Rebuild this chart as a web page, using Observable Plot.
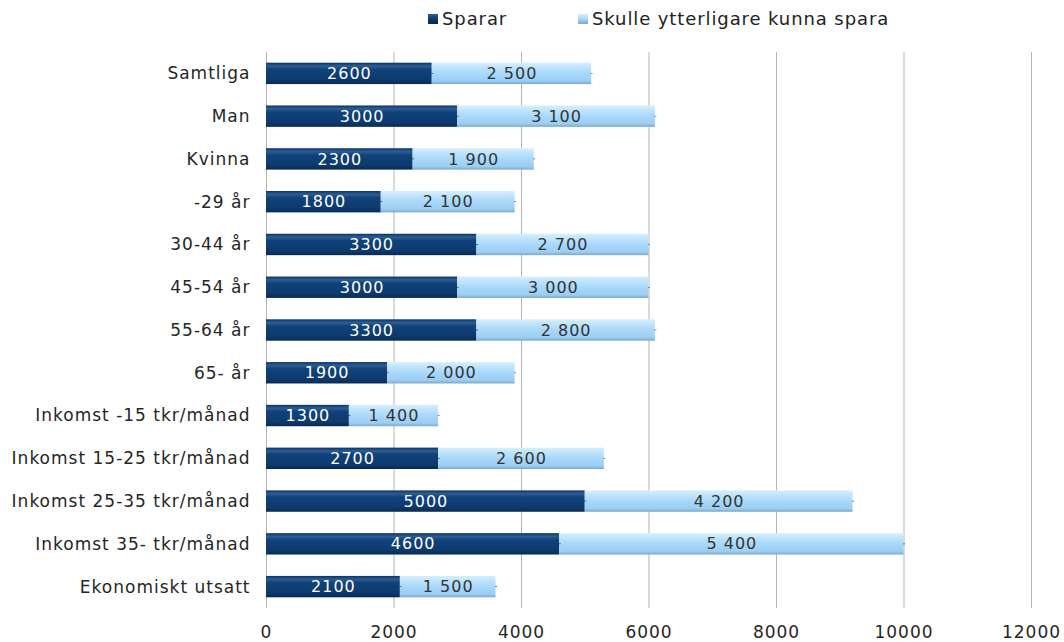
<!DOCTYPE html>
<html><head><meta charset="utf-8">
<script src="https://cdn.jsdelivr.net/npm/d3@7"></script>
<script src="https://cdn.jsdelivr.net/npm/@observablehq/plot@0.6"></script>
<style>
body{margin:0;background:#fff;font-family:"DejaVu Sans",Verdana,sans-serif;}
#wrap{position:relative;width:1064px;}
#legend{position:relative;height:40px;font-size:18px;letter-spacing:0.9px;color:#222;}
.lg{position:absolute;top:8px;display:flex;align-items:center;}
.sw{width:10px;height:10px;margin-right:4px;}
svg text{letter-spacing:1px;}
</style></head>
<body><div id="wrap"><div id="legend"></div><div id="chart"></div></div>
<script>
const categories = ["Samtliga","Man","Kvinna","-29 år","30-44 år","45-54 år","55-64 år","65- år","Inkomst -15 tkr/månad","Inkomst 15-25 tkr/månad","Inkomst 25-35 tkr/månad","Inkomst 35- tkr/månad","Ekonomiskt utsatt"];
const sparar = [2600,3000,2300,1800,3300,3000,3300,1900,1300,2700,5000,4600,2100];
const skulle = [2500,3100,1900,2100,2700,3000,2800,2000,1400,2600,4200,5400,1500];
const seriesNames = ["Sparar","Skulle ytterligare kunna spara"];
const xTicks = [0,2000,4000,6000,8000,10000,12000];

const rows = categories.map((c,i)=>({cat:c, s:sparar[i], e:skulle[i]}));
const fmtSpace = v => d3.format(",")(v).replace(/,/g," ");

const legend = document.getElementById("legend");
[[seriesNames[0],428,"linear-gradient(#2d5d93,#0d3a6e 50%,#072a52)"],[seriesNames[1],578,"linear-gradient(#d8effd,#a8d8fa 50%,#7aa8cf)"]].forEach(([t,x,bg])=>{
  const d=document.createElement("div");d.className="lg";d.style.left=x+"px";
  d.innerHTML=`<div class="sw" style="background:${bg}"></div><span>${t}</span>`;legend.appendChild(d);
});

const defs = () => {
  const g = d3.create("svg:defs");
  const mk=(id,stops)=>{const lg=g.append("linearGradient").attr("id",id).attr("x1",0).attr("x2",0).attr("y1",0).attr("y2",1);
    stops.forEach(([o,c])=>lg.append("stop").attr("offset",o).attr("stop-color",c));};
  mk("gDark",[[0,"#0b3463"],[0.15,"#2d5d93"],[0.32,"#10427a"],[0.8,"#0d3a6e"],[1,"#072a52"]]);
  mk("gLight",[[0,"#d8effd"],[0.18,"#c4e6fc"],[0.5,"#a8d8fa"],[0.85,"#9ccef3"],[1,"#7aa8cf"]]);
  return g.node();
};

const chart = Plot.plot({
  width:1064, height:602,
  marginLeft:266, marginRight:33, marginTop:12, marginBottom:34,
  style:{fontFamily:"DejaVu Sans, Verdana, sans-serif", fontSize:"17px", color:"#262626", background:"#fff"},
  x:{domain:[0,12000], ticks:xTicks, tickSize:0, tickPadding:17, tickFormat:d=>String(d), label:null},
  y:{domain:categories, paddingInner:0.5, paddingOuter:0.25, round:false, tickSize:0, tickPadding:16, label:null},
  marks:[
    defs,
    Plot.ruleX(xTicks,{stroke:"#b5b5b5", strokeWidth:1}),
    Plot.barX(rows,{y:"cat", x1:0, x2:"s", fill:"url(#gDark)"}),
    Plot.barX(rows,{y:"cat", x1:"s", x2:d=>d.s+d.e, fill:"url(#gLight)"}),
    Plot.tickX(rows,{y:"cat", x:"s", stroke:"#072a52", strokeWidth:2, insetTop:11, insetBottom:11}),
    Plot.tickX(rows,{y:"cat", x:d=>d.s+d.e, stroke:"#2b5078", strokeWidth:2, insetTop:11, insetBottom:11}),
    Plot.text(rows,{y:"cat", x:d=>d.s/2, text:d=>String(d.s), fill:"white", fontSize:16}),
    Plot.text(rows,{y:"cat", x:d=>d.s+d.e/2, text:d=>fmtSpace(d.e), fill:"#333", fontSize:16})
  ]
});
document.getElementById("chart").appendChild(chart);
</script></body></html>
